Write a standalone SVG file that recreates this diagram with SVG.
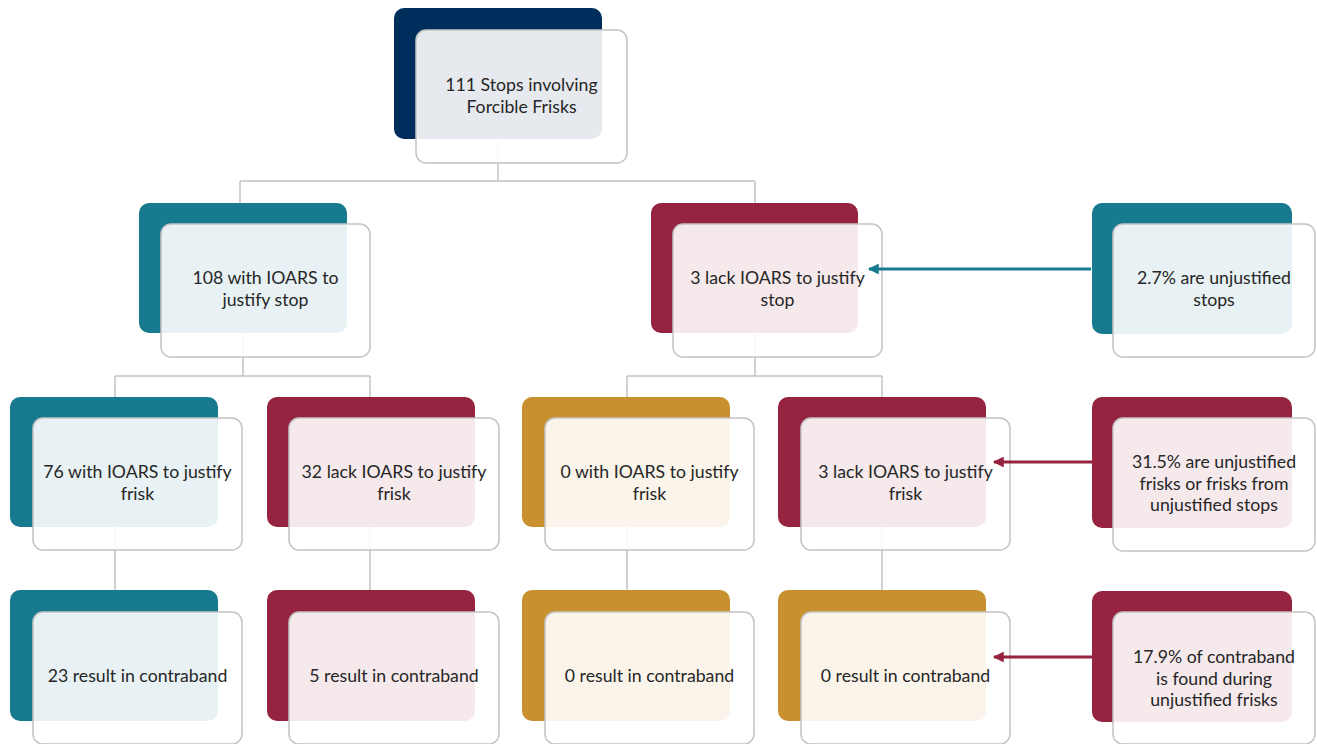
<svg xmlns="http://www.w3.org/2000/svg" width="1317" height="744" viewBox="0 0 1317 744">
<defs>
<style>
.navy{fill:#002e5c}
.teal{fill:#187a8f}
.crim{fill:#96233f}
.gold{fill:#c8902e}
.front{fill:#ffffff;fill-opacity:0.9;stroke:#c4c4c4;stroke-width:1.5}
.conn{stroke:#c4c4c4;stroke-width:1.5;fill:none}
.lbl{font-family:Lato,"Liberation Sans",sans-serif;font-size:17.7px;fill:#262626;text-anchor:middle}
</style>
<marker id="ahT" viewBox="0 0 10 10" refX="9" refY="5" markerWidth="3.6" markerHeight="3.6" orient="auto-start-reverse" markerUnits="strokeWidth"><path d="M0,0 L10,5 L0,10 z" fill="#187a8f"/></marker>
<marker id="ahC" viewBox="0 0 10 10" refX="9" refY="5" markerWidth="3.6" markerHeight="3.6" orient="auto-start-reverse" markerUnits="strokeWidth"><path d="M0,0 L10,5 L0,10 z" fill="#96233f"/></marker>
</defs>
<rect width="1317" height="744" fill="#ffffff"/>
<g id="connectors">
<path class="conn" d="M498,100 V181 M240,181 H755 M240,181 V203 M755,181 V203"/>
<path class="conn" d="M243,290 V376 M115,376 H370 M115,376 V500 M370,376 V500"/>
<path class="conn" d="M755,290 V376 M627,376 H882 M627,376 V500 M882,376 V500"/>
<path class="conn" d="M115,480 V590 M370,480 V590 M627,480 V590 M882,480 V590"/>
</g>
<g id="n-top">
<rect class="navy" x="394" y="8" width="208" height="131" rx="10"/>
<rect class="front" x="416" y="30" width="211" height="133" rx="10"/>
<text class="lbl" x="521.5" y="91">111 Stops involving</text>
<text class="lbl" x="521.5" y="112.5">Forcible Frisks</text>
</g>
<g id="n-108">
<rect class="teal" x="139" y="203" width="208" height="130" rx="10"/>
<rect class="front" x="161" y="224" width="209" height="133" rx="10"/>
<text class="lbl" x="265.5" y="284">108 with IOARS to</text>
<text class="lbl" x="265.5" y="306">justify stop</text>
</g>
<g id="n-3stop">
<rect class="crim" x="651" y="203" width="207" height="130" rx="10"/>
<rect class="front" x="673" y="224" width="209" height="133" rx="10"/>
<text class="lbl" x="777.5" y="284">3 lack IOARS to justify</text>
<text class="lbl" x="777.5" y="306">stop</text>
</g>
<g id="n-27">
<rect class="teal" x="1092" y="203" width="200" height="131" rx="10"/>
<rect class="front" x="1113" y="224" width="202" height="133" rx="10"/>
<text class="lbl" x="1214" y="284">2.7% are unjustified</text>
<text class="lbl" x="1214" y="306">stops</text>
</g>
<g id="n-76">
<rect class="teal" x="10" y="397" width="208" height="130" rx="10"/>
<rect class="front" x="33" y="418" width="209" height="132" rx="10"/>
<text class="lbl" x="137.5" y="478">76 with IOARS to justify</text>
<text class="lbl" x="137.5" y="500">frisk</text>
</g>
<g id="n-32">
<rect class="crim" x="267" y="397" width="208" height="130" rx="10"/>
<rect class="front" x="289" y="418" width="210" height="132" rx="10"/>
<text class="lbl" x="394" y="478">32 lack IOARS to justify</text>
<text class="lbl" x="394" y="500">frisk</text>
</g>
<g id="n-0frisk">
<rect class="gold" x="522" y="397" width="208" height="130" rx="10"/>
<rect class="front" x="545" y="418" width="209" height="132" rx="10"/>
<text class="lbl" x="649.5" y="478">0 with IOARS to justify</text>
<text class="lbl" x="649.5" y="500">frisk</text>
</g>
<g id="n-3frisk">
<rect class="crim" x="778" y="397" width="208" height="130" rx="10"/>
<rect class="front" x="801" y="418" width="209" height="132" rx="10"/>
<text class="lbl" x="905.5" y="478">3 lack IOARS to justify</text>
<text class="lbl" x="905.5" y="500">frisk</text>
</g>
<g id="n-315">
<rect class="crim" x="1092" y="397" width="200" height="131" rx="10"/>
<rect class="front" x="1113" y="418" width="202" height="133" rx="10"/>
<text class="lbl" x="1214" y="468">31.5% are unjustified</text>
<text class="lbl" x="1214" y="489.5">frisks or frisks from</text>
<text class="lbl" x="1214" y="511">unjustified stops</text>
</g>
<g id="n-23">
<rect class="teal" x="10" y="590" width="208" height="131" rx="10"/>
<rect class="front" x="33" y="612" width="209" height="132" rx="10"/>
<text class="lbl" x="137.5" y="682">23 result in contraband</text>
</g>
<g id="n-5">
<rect class="crim" x="267" y="590" width="208" height="131" rx="10"/>
<rect class="front" x="289" y="612" width="210" height="132" rx="10"/>
<text class="lbl" x="394" y="682">5 result in contraband</text>
</g>
<g id="n-0c">
<rect class="gold" x="522" y="590" width="208" height="131" rx="10"/>
<rect class="front" x="545" y="612" width="209" height="132" rx="10"/>
<text class="lbl" x="649.5" y="682">0 result in contraband</text>
</g>
<g id="n-0c2">
<rect class="gold" x="778" y="590" width="208" height="131" rx="10"/>
<rect class="front" x="801" y="612" width="209" height="132" rx="10"/>
<text class="lbl" x="905.5" y="682">0 result in contraband</text>
</g>
<g id="n-179">
<rect class="crim" x="1092" y="591" width="200" height="131" rx="10"/>
<rect class="front" x="1113" y="612" width="202" height="132" rx="10"/>
<text class="lbl" x="1214" y="663">17.9% of contraband</text>
<text class="lbl" x="1214" y="684.5">is found during</text>
<text class="lbl" x="1214" y="706">unjustified frisks</text>
</g>
<g id="arrows">
<line x1="1091" y1="269" x2="869" y2="269" stroke="#187a8f" stroke-width="3" marker-end="url(#ahT)"/>
<line x1="1092" y1="462" x2="994" y2="462" stroke="#96233f" stroke-width="3" marker-end="url(#ahC)"/>
<line x1="1092" y1="657" x2="994" y2="657" stroke="#96233f" stroke-width="3" marker-end="url(#ahC)"/>
</g>
</svg>
